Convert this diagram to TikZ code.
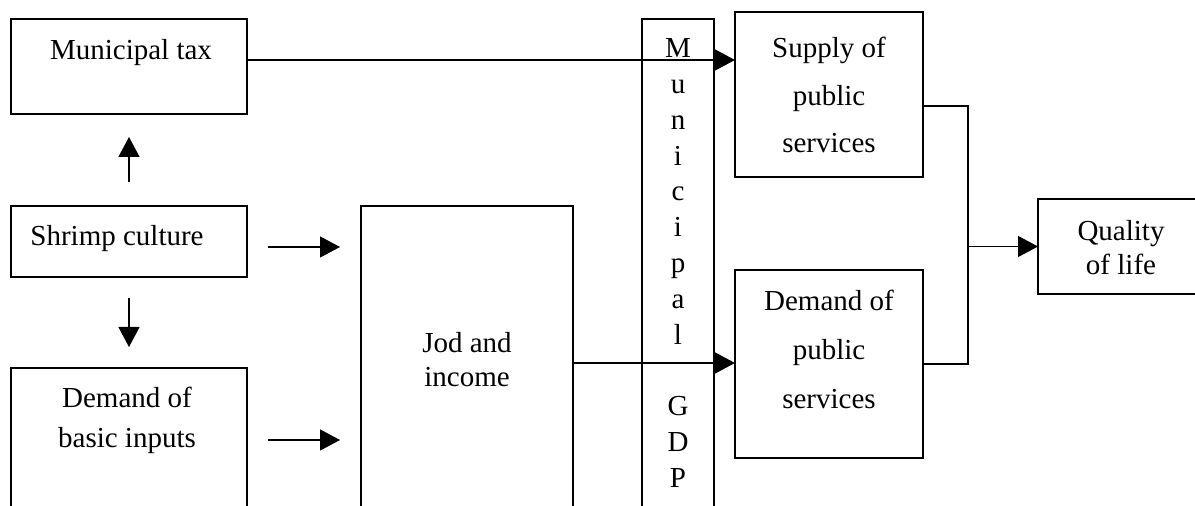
\documentclass[tikz,border=0pt]{standalone}
\usepackage{fontspec}
\setmainfont{Liberation Serif}
\usetikzlibrary{arrows.meta}

\begin{document}
\begin{tikzpicture}[x=0.5pt,y=-0.5pt,
	box/.style={draw,line width=0.6pt,inner sep=0pt,outer sep=0pt,anchor=north west},
	txt/.style={align=center,inner sep=0pt,font=\fontsize{14.5}{#1}\selectfont},
	arr/.style={-{Triangle[length=10pt,width=10.5pt]},line width=0.6pt}]
		\useasboundingbox (0,0) rectangle (1195,506);
		\clip (0,0) rectangle (1195,506);
		% boxes
		\node[box,minimum width=118pt,minimum height=47.5pt] (tax) at (11,19) {};
		\node[box,minimum width=118pt,minimum height=35.5pt] (shrimp) at (11,206) {};
		\node[box,minimum width=118pt,minimum height=76pt] (inputs) at (11,368) {};
		\node[box,minimum width=106pt,minimum height=157pt] (jobs) at (361,206) {};
		\node[box,minimum width=36pt,minimum height=250.5pt] (gdp) at (642,19) {};
		\node[box,minimum width=94pt,minimum height=82.5pt] (supply) at (735,12) {};
		\node[box,minimum width=94pt,minimum height=94pt] (demand) at (735,270) {};
		\node[box,minimum width=85pt,minimum height=47.5pt] (quality) at (1038,199) {};
		%
		% texts
		\node[txt=17] (taxtxt) at (131,53) {Municipal tax};
		\node[txt=17] (shrimptxt) at (117,239) {Shrimp culture};
		\node[txt=20] (inputstxt) at (127,420) {Demand of\\basic inputs};
		\node[txt=17] (jobstxt) at (467,360) {Jod and\\income};
		\node[txt=17.9] (gdptxt) at (678,263) {M\\u\\n\\i\\c\\i\\p\\a\\l\\[17.9pt]G\\D\\P};
		\node[txt=23.75] (supplytxt) at (829,95) {Supply of\\public\\services};
		\node[txt=24.5] (demandtxt) at (829,349) {Demand of\\public\\services};
		\node[txt=17] (qualitytxt) at (1121,248) {Quality\\of life};
		%
		% vertical arrows
		\draw[arr,shorten <=12pt,shorten >=11.5pt] (shrimp.north) -- (tax.south);
		\draw[arr,shorten <=10.5pt,shorten >=10.5pt] (shrimp.south) -- (inputs.north);
		% horizontal arrows
		\coordinate (s1) at ([yshift=-2.75pt]shrimp.east);
		\coordinate (i1) at ([yshift=-36pt]inputs.north east);
		\coordinate (t1) at ([yshift=3.25pt]tax.east);
		\draw[arr,shorten <=10.5pt,shorten >=10.5pt] (s1) -- (s1 -| jobs.west);
		\draw[arr,shorten <=10.5pt,shorten >=10.5pt] (i1) -- (i1 -| jobs.west);
		\draw[arr] (t1) -- (t1 -| supply.west);
		\draw[arr] (jobs.east) -- (jobs.east -| demand.west);
		% to quality of life
		\coordinate (bend) at ([xshift=22.5pt,yshift=-5.75pt]supply.east);
		\draw[line width=0.6pt] (bend -| supply.east) -- (bend) |- (demand.east);
		\draw[arr] (bend |- quality.west) -- (quality.west);
\end{tikzpicture}
\end{document}
